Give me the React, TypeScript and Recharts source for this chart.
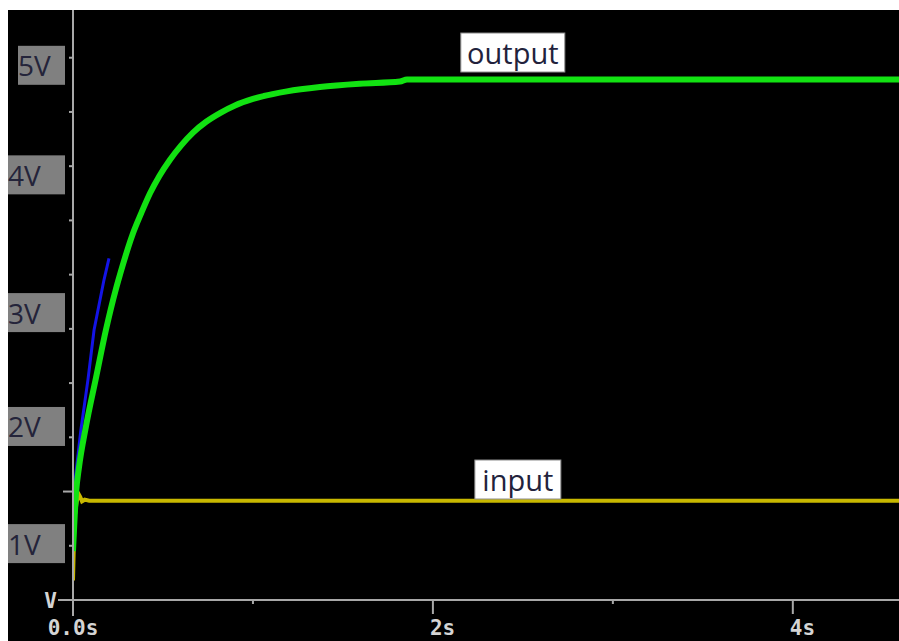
import { LineChart, Line, XAxis, YAxis, ReferenceDot } from 'recharts'

// values (seconds / volts)
const outputTime = [0, 0.017, 0.033, 0.072, 0.128, 0.183, 0.239, 0.261, 0.333, 0.38, 0.428, 0.48, 0.539, 0.6, 0.667, 0.74, 0.817, 0.9, 1.0, 1.189, 1.372, 1.594, 1.817, 1.856, 4.59]
const outputVolts = [0.45, 0.99, 1.22, 1.6, 2.05, 2.49, 2.87, 3.0, 3.38, 3.57, 3.75, 3.91, 4.06, 4.19, 4.31, 4.41, 4.49, 4.56, 4.62, 4.69, 4.73, 4.76, 4.78, 4.8, 4.8]

const traceTime = [0, 0.004, 0.044, 0.083, 0.117, 0.172, 0.2]
const traceVolts = [0.6, 1.0, 1.57, 2.03, 2.49, 2.95, 3.15]

const inputTime = [0, 0.008, 0.02, 0.03, 0.04, 0.05, 0.065, 0.09, 4.59]
const inputVolts = [0.18, 0.75, 0.9, 0.98, 0.95, 0.91, 0.925, 0.915, 0.915]

const xTicks = [0, 1, 2, 3, 4]
const xTickLabels = ['0.0s', '', '2s', '', '4s']
const yTicks = [0, 0.5, 1, 1.5, 2, 2.5, 3, 3.5, 4, 4.5, 5]
const yLabels = ['1V', '2V', '3V', '4V', '5V']
const yLabelAt = [0.52, 1.6, 2.65, 3.92, 4.93]

const zip = (ts: number[], vs: number[]) => ts.map((t, i) => ({ t, v: vs[i] }))

const outputData = zip(outputTime, outputVolts)
const traceData = zip(traceTime, traceVolts)
const inputData = zip(inputTime, inputVolts)

const W = 891
const H = 631
const AX = 65 // y axis line
const AY = 590 // x axis line
const AXIS = '#a8a8a8'
const MONO = '"DejaVu Sans Mono", monospace'
const SANS = '"Open Sans", sans-serif'

function YTick({ y, payload }: any) {
  const v = payload.value
  const li = yLabelAt.indexOf(v)
  const isGrid = yTicks.includes(v)
  const boxX = li === yLabels.length - 1 ? 10 : -4
  return (
    <g>
      {v === 0 && (
        <>
          <line x1={AX - 15} x2={AX} y1={y} y2={y} stroke={AXIS} strokeWidth={2} />
          <text x={49} y={y + 8} textAnchor="end" fontSize={21} fontWeight="bold" fontFamily={MONO} fill="#d4d4d4">
            V
          </text>
        </>
      )}
      {isGrid && v !== 0 && (
        <line x1={AX - (v === 1 ? 10 : 4)} x2={AX} y1={y} y2={y} stroke={AXIS} strokeWidth={2} />
      )}
      {li >= 0 && (
        <g>
          <rect x={boxX} y={y - 19.5} width={57 - boxX} height={39} fill="#808080" />
          <text x={boxX + (boxX < 0 ? 4 : 0)} y={y + 11} fontSize={28} fontFamily={SANS} fill="#24243a">
            {yLabels[li]}
          </text>
        </g>
      )}
    </g>
  )
}

function XTick({ x, payload }: any) {
  const v = payload.value
  const label = xTickLabels[xTicks.indexOf(v)]
  const len = v === 0 ? 16 : label ? 14 : 4
  return (
    <g>
      <line x1={x} x2={x} y1={AY} y2={AY + len} stroke={AXIS} strokeWidth={2} />
      {label && (
        <text
          x={v === 0 ? x : x - 3}
          y={AY + 35}
          textAnchor={v === 0 ? 'middle' : 'start'}
          fontSize={21}
          fontWeight="bold"
          fontFamily={MONO}
          fill="#d4d4d4"
        >
          {label}
        </text>
      )}
    </g>
  )
}

function Tag({ cx, cy, text, w }: { cx: number; cy: number; text: string; w: number }) {
  return (
    <g>
      <rect x={cx - w / 2} y={cy - 19.5} width={w} height={39} fill="#ffffff" stroke="#8c8c8c" />
      <text x={cx} y={cy + 11} textAnchor="middle" fontSize={29} fontFamily={SANS} fill="#22223c">
        {text}
      </text>
    </g>
  )
}

export default function App() {
  return (
    <div
      style={{
        position: 'fixed',
        left: 8,
        top: 10,
        width: W,
        height: H,
        background: '#000',
        overflow: 'hidden',
      }}
    >
      <LineChart width={W} height={H} margin={{ top: 0, right: 0, bottom: 0, left: 0 }}>
        <XAxis
          type="number"
          dataKey="t"
          domain={[0, 4.59]}
          ticks={xTicks}
          interval={0}
          height={H - AY}
          tickLine={false}
          axisLine={{ stroke: AXIS, strokeWidth: 2 }}
          tick={(p: any) => <XTick {...p} />}
          allowDataOverflow
        />
        <YAxis
          type="number"
          domain={[0, 5.44]}
          ticks={[...yTicks, ...yLabelAt].sort((a, b) => a - b)}
          interval={0}
          width={AX}
          tickLine={false}
          axisLine={{ stroke: AXIS, strokeWidth: 2 }}
          tick={(p: any) => <YTick {...p} />}
          allowDataOverflow
        />
        <Line
          data={inputData}
          dataKey="v"
          type="linear"
          stroke="#c8b800"
          strokeWidth={4}
          dot={false}
          isAnimationActive={false}
        />
        <Line
          data={traceData}
          dataKey="v"
          type="linear"
          stroke="#1414e6"
          strokeWidth={3}
          dot={false}
          isAnimationActive={false}
        />
        <Line
          data={outputData}
          dataKey="v"
          type="monotone"
          stroke="#12e212"
          strokeWidth={6}
          dot={false}
          isAnimationActive={false}
        />
        <ReferenceDot
          x={2.444}
          y={5.048}
          r={0}
          shape={(p: any) => <Tag cx={p.cx} cy={p.cy} text="output" w={104} />}
        />
        <ReferenceDot
          x={2.472}
          y={1.111}
          r={0}
          shape={(p: any) => <Tag cx={p.cx} cy={p.cy} text="input" w={86} />}
        />
      </LineChart>
    </div>
  )
}
